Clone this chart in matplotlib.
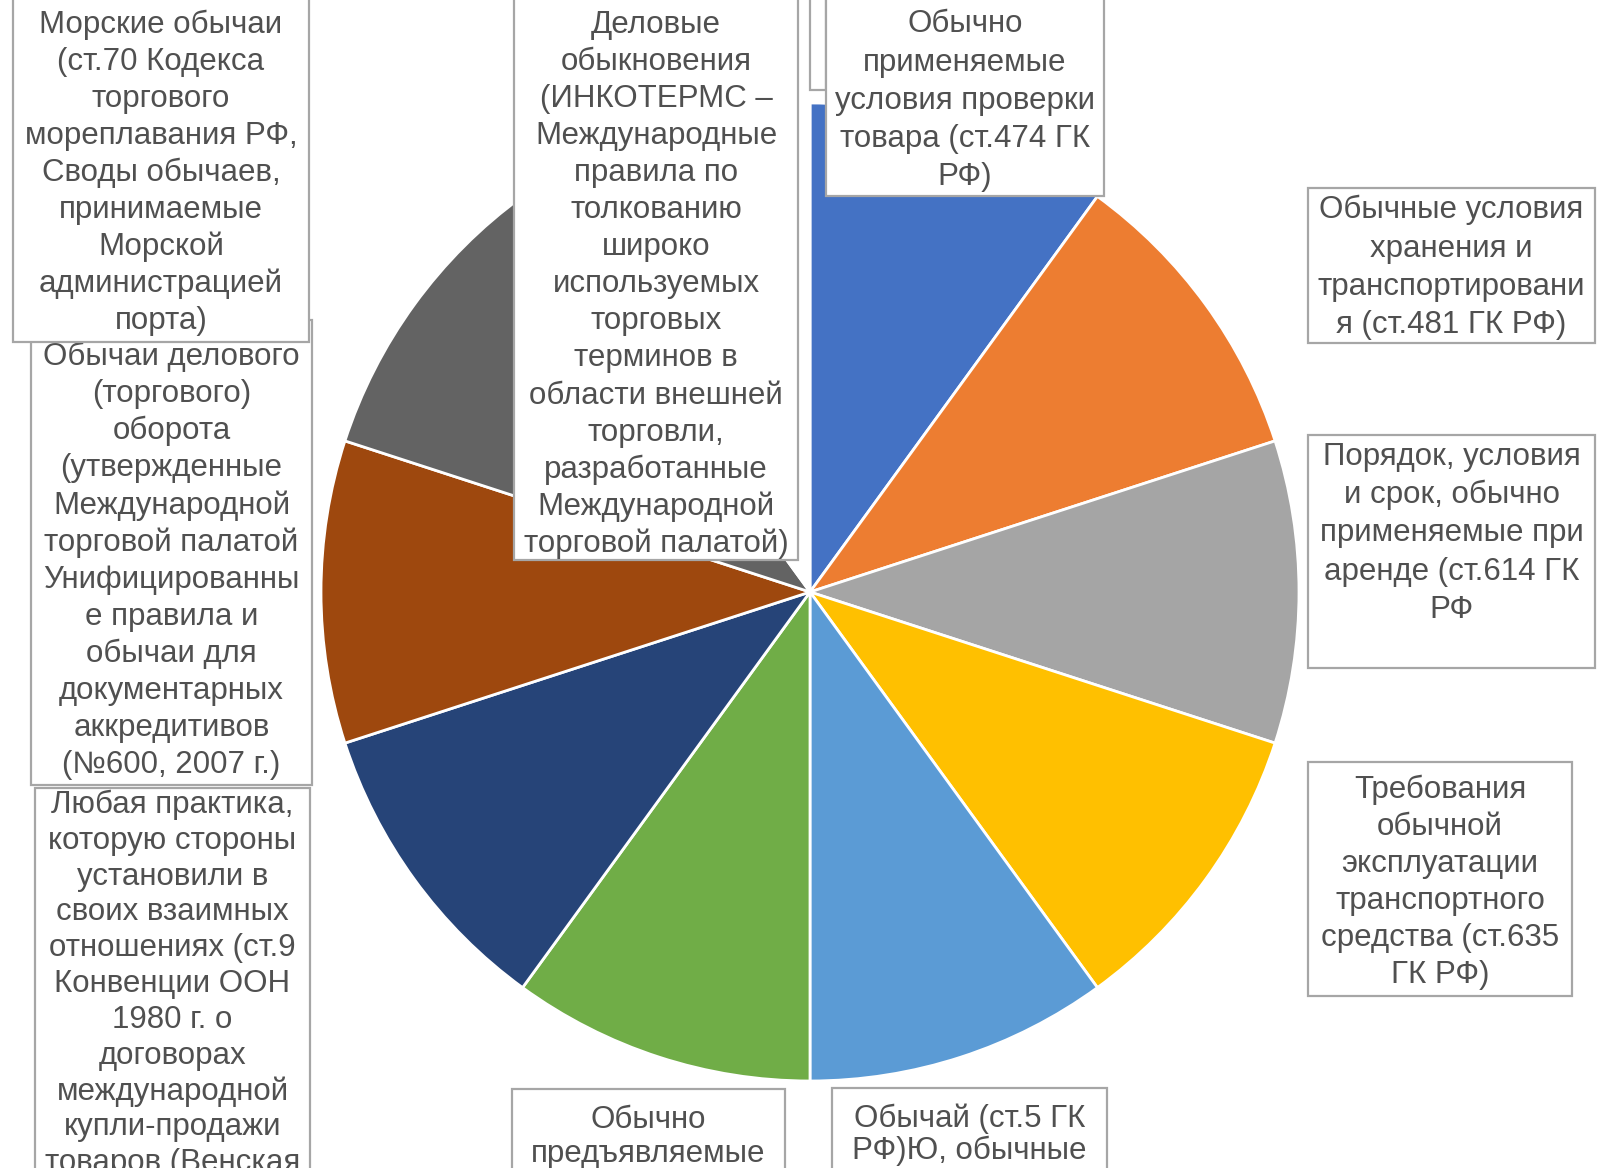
import matplotlib
matplotlib.use("Agg")
import matplotlib.pyplot as plt
from matplotlib.patches import Rectangle

# ---------------- data ----------------
categories = [
    "Обычно\nприменяемые\nусловия проверки\nтовара (ст.474 ГК\nРФ)",
    "Обычные условия\nхранения и\nтранспортировани\nя (ст.481 ГК РФ)",
    "Порядок, условия\nи срок, обычно\nприменяемые при\nаренде (ст.614 ГК\nРФ",
    "Требования\nобычной\nэксплуатации\nтранспортного\nсредства (ст.635\nГК РФ)",
    "Обычай (ст.5 ГК\nРФ)Ю, обычные",
    "Обычно\nпредъявляемые",
    "Любая практика,\nкоторую стороны\nустановили в\nсвоих взаимных\nотношениях (ст.9\nКонвенции ООН\n1980 г. о\nдоговорах\nмеждународной\nкупли-продажи\nтоваров (Венская",
    "Обычаи делового\n(торгового)\nоборота\n(утвержденные\nМеждународной\nторговой палатой\nУнифицированны\nе правила и\nобычаи для\nдокументарных\nаккредитивов\n(№600, 2007 г.)",
    "Морские обычаи\n(ст.70 Кодекса\nторгового\nмореплавания РФ,\nСводы обычаев,\nпринимаемые\nМорской\nадминистрацией\nпорта)",
    "Деловые\nобыкновения\n(ИНКОТЕРМС –\nМеждународные\nправила по\nтолкованию\nшироко\nиспользуемых\nторговых\nтерминов в\nобласти внешней\nторговли,\nразработанные\nМеждународной\nторговой палатой)",
]
values = [1, 1, 1, 1, 1, 1, 1, 1, 1, 1]

colors = ["#4472C4", "#ED7D31", "#A5A5A5", "#FFC000", "#5B9BD5",
          "#70AD47", "#264478", "#9E480E", "#636363", "#FFFFFF"]

# ---------------- layout (pixels, y downward) ----------------
W, H = 1603, 1168
# label boxes: (x0, x1, y_top, y_bottom, first_line_y, line_step, zorder)
boxes = [
    (826, 1104, -10, 196, 24.5, 38.0, 5),
    (1308, 1595, 188, 343, 210, 38.5, 5),
    (1308, 1595, 435, 668, 457, 38.2, 5),
    (1308, 1572, 762, 996, 790, 37.0, 5),
    (832, 1107, 1088, 1200, 1119, 31.5, 5),
    (512, 785, 1089, 1200, 1120, 34.0, 5),
    (35, 310, 788, 1200, 805, 35.8, 5),
    (31, 312, 320, 785, 357, 37.1, 6),
    (13, 309, -10, 342, 24.5, 37.1, 7),
    (514, 798, -10, 560, 24.5, 37.1, 5),
]

fig = plt.figure(figsize=(W / 100, H / 100), dpi=100)
ax = fig.add_axes([0, 0, 1, 1])

ax.pie(values, colors=colors, startangle=-90, counterclock=True,
       center=(810, 592), radius=489,
       wedgeprops=dict(edgecolor="white", linewidth=2.0), frame=False)
ax.set_xlim(0, W)
ax.set_ylim(H, 0)
ax.set_aspect("equal")
ax.axis("off")

# thin empty label box at top
thin = Rectangle((810, -10), 16, 100, facecolor="white", edgecolor="#A6A6A6",
                 linewidth=1.6, zorder=5)
ax.add_patch(thin)

for label, (x0, x1, yt, yb, ly, step, z) in zip(categories, boxes):
    rect = Rectangle((x0, yt), x1 - x0, yb - yt, facecolor="white",
                     edgecolor="#A6A6A6", linewidth=1.6, zorder=z)
    ax.add_patch(rect)
    cx = (x0 + x1) / 2
    for i, line in enumerate(label.split("\n")):
        t = ax.text(cx, ly + i * step, line, ha="center", va="center",
                    fontsize=22.5, family=["Liberation Sans", "DejaVu Sans"],
                    color="#505050", zorder=z + 0.1)
        t.set_clip_path(rect)

fig.savefig("out.png", dpi=100)
